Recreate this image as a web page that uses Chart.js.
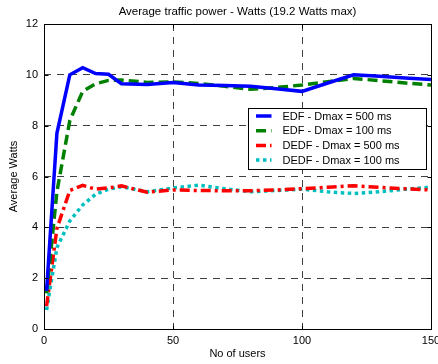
<!DOCTYPE html>
<html>
<head>
<meta charset="utf-8">
<script src="https://cdn.jsdelivr.net/npm/chart.js@4.4.1/dist/chart.umd.min.js"></script>
<style>
  html, body { margin: 0; padding: 0; background: #fff; overflow: hidden; }
  #wrap { width: 438px; height: 364px; }
</style>
</head>
<body>
<div id="wrap"><canvas id="powerChart"></canvas></div>
<script>
// number of users (x positions shared by all curves)
const users = [1, 5, 10, 15, 20, 25, 30, 40, 50, 60, 70, 80, 90, 100, 110, 120, 130, 140, 150];

// average power in watts
const edf500 = [1.5, 7.7, 10.0, 10.28, 10.05, 10.02, 9.65, 9.62, 9.7, 9.6, 9.58, 9.55, 9.45, 9.35, 9.68, 10.0, 9.94, 9.88, 9.82];
const edf100 = [1.4, 5.4, 8.2, 9.35, 9.65, 9.78, 9.8, 9.7, 9.72, 9.66, 9.55, 9.43, 9.5, 9.6, 9.73, 9.86, 9.77, 9.68, 9.6];
const dedf500 = [0.9, 3.95, 5.45, 5.65, 5.5, 5.55, 5.63, 5.38, 5.47, 5.45, 5.44, 5.44, 5.47, 5.52, 5.58, 5.64, 5.57, 5.52, 5.47];
const dedf100 = [0.75, 3.2, 4.25, 4.88, 5.3, 5.5, 5.6, 5.4, 5.55, 5.66, 5.52, 5.4, 5.45, 5.5, 5.4, 5.33, 5.4, 5.5, 5.58];

const seriesLabels = ['EDF - Dmax = 500 ms', 'EDF - Dmax = 100 ms', 'DEDF - Dmax = 500 ms', 'DEDF - Dmax = 100 ms'];
const xTicks = [0, 50, 100, 150];
const yTicks = [0, 2, 4, 6, 8, 10, 12];
const chartTitle = 'Average traffic power - Watts (19.2 Watts max)';

const FONT = '"Liberation Sans", Arial, Helvetica, sans-serif';
Chart.defaults.font.family = FONT;
Chart.defaults.font.size = 11;
Chart.defaults.color = '#000';

function toPoints(ys) {
    return users.map((u, i) => ({ x: u, y: ys[i] }));
}

function makeSet(label, ys, color, dash) {
    return {
        label: label,
        data: toPoints(ys),
        borderColor: color,
        backgroundColor: color,
        borderWidth: 3.5,
        borderDash: dash,
        borderCapStyle: 'butt',
        pointRadius: 0,
        tension: 0,
        fill: false
    };
}

// title centred over the plot area (not the whole canvas)
const plotTitle = {
    id: 'plotTitle',
    afterDraw(chart) {
        const { ctx, chartArea: a } = chart;
        ctx.save();
        ctx.font = '11.5px ' + FONT;
        ctx.fillStyle = '#000';
        ctx.textAlign = 'center';
        ctx.textBaseline = 'middle';
        ctx.fillText(chartTitle, (a.left + a.right) / 2, 12);
        ctx.restore();
    }
};

// box round the plot + inward tick marks on all four sides
const axesBox = {
    id: 'axesBox',
    afterDatasetsDraw(chart) {
        const { ctx, chartArea: a, scales } = chart;
        const L = Math.round(a.left) + 0.5, R = Math.round(a.right) + 0.5;
        const T = Math.round(a.top) + 0.5, B = Math.round(a.bottom) + 0.5;
        ctx.save();
        ctx.strokeStyle = '#000';
        ctx.lineWidth = 1;
        ctx.setLineDash([]);
        ctx.strokeRect(L, T, R - L, B - T);
        ctx.beginPath();
        xTicks.forEach(v => {
            const px = Math.round(scales.x.getPixelForValue(v)) + 0.5;
            ctx.moveTo(px, B); ctx.lineTo(px, B - 4);
            ctx.moveTo(px, T); ctx.lineTo(px, T + 4);
        });
        yTicks.forEach(v => {
            const py = Math.round(scales.y.getPixelForValue(v)) + 0.5;
            ctx.moveTo(L, py); ctx.lineTo(L + 4, py);
            ctx.moveTo(R, py); ctx.lineTo(R - 4, py);
        });
        ctx.stroke();
        ctx.restore();
    }
};

// legend box inside the plot, upper right
const boxLegend = {
    id: 'boxLegend',
    afterDraw(chart) {
        const { ctx, chartArea: a } = chart;
        const x0 = a.right - 182.5, y0 = 108.5, w = 178, h = 61;
        ctx.save();
        ctx.fillStyle = '#fff';
        ctx.fillRect(x0, y0, w, h);
        ctx.strokeStyle = '#000';
        ctx.lineWidth = 1;
        ctx.setLineDash([]);
        ctx.strokeRect(x0, y0, w, h);
        ctx.font = '11px ' + FONT;
        ctx.textBaseline = 'middle';
        ctx.fillStyle = '#000';
        chart.data.datasets.forEach((ds, i) => {
            const y = y0 + 7.5 + i * 14.7;
            ctx.beginPath();
            ctx.strokeStyle = ds.borderColor;
            ctx.lineWidth = ds.borderWidth;
            ctx.lineCap = 'butt';
            ctx.setLineDash(ds.borderDash || []);
            ctx.moveTo(x0 + 7.5, y);
            ctx.lineTo(x0 + 23, y);
            ctx.stroke();
            ctx.setLineDash([]);
            ctx.fillText(ds.label, x0 + 34, y + 0.5);
        });
        ctx.restore();
    }
};

const gridColor = (ctx) => {
    const v = ctx.tick ? ctx.tick.value : null;
    const scale = ctx.scale;
    if (v === scale.min || v === scale.max) return 'rgba(0,0,0,0)';
    return 'rgba(0,0,0,0.75)';
};

new Chart(document.getElementById('powerChart'), {
    type: 'line',
    data: {
        datasets: [
            makeSet(seriesLabels[0], edf500, '#0000ff', []),
            makeSet(seriesLabels[1], edf100, '#008000', [10, 5]),
            makeSet(seriesLabels[2], dedf500, '#ff0000', [10, 4, 3, 4]),
            makeSet(seriesLabels[3], dedf100, '#00bfbf', [3.5, 3.5])
        ]
    },
    options: {
        responsive: true,
        maintainAspectRatio: false,
        animation: false,
        layout: { padding: { left: 0, right: 7, top: 24, bottom: 0 } },
        plugins: {
            legend: { display: false },
            tooltip: { enabled: false },
            title: { display: false }
        },
        scales: {
            x: {
                type: 'linear',
                min: 0,
                max: 150,
                afterBuildTicks: (s) => { s.ticks = xTicks.map(v => ({ value: v })); },
                afterFit: (s) => { s.height = 35; s.paddingLeft = 0; s.paddingRight = 0; },
                ticks: { padding: 5, maxRotation: 0, font: { size: 11 }, color: '#000' },
                grid: { color: gridColor, lineWidth: 1, drawTicks: false },
                border: { display: false, dash: [7, 6] },
                title: { display: true, text: 'No of users', font: { size: 11 }, color: '#000', padding: { top: 0, bottom: 3 } }
            },
            y: {
                min: 0,
                max: 12,
                afterBuildTicks: (s) => { s.ticks = yTicks.map(v => ({ value: v })); },
                afterFit: (s) => { s.width = 44; s.paddingTop = 0; s.paddingBottom = 0; },
                ticks: { padding: 6, font: { size: 11 }, color: '#000' },
                grid: { color: gridColor, lineWidth: 1, drawTicks: false },
                border: { display: false, dash: [7, 6] },
                title: { display: true, text: 'Average Watts', font: { size: 11 }, color: '#000', padding: { top: 7.4, bottom: 0 } }
            }
        }
    },
    plugins: [axesBox, boxLegend, plotTitle]
});
</script>
</body>
</html>
